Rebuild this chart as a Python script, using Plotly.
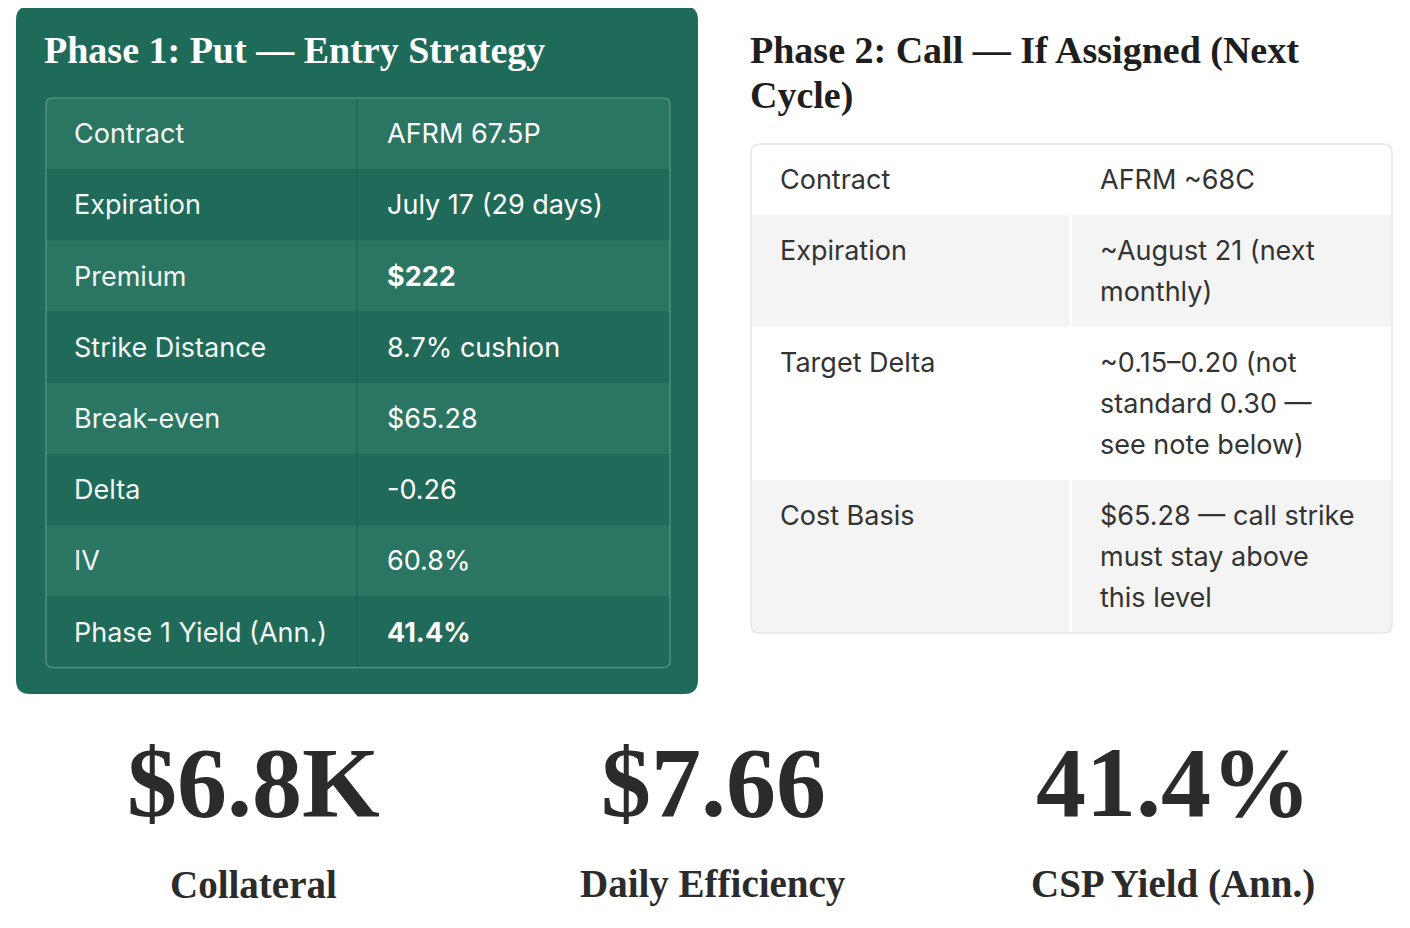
import plotly.graph_objects as go

# ---- data ----
phase1_title = "Phase 1: Put — Entry Strategy"
phase1_labels = ["Contract", "Expiration", "Premium", "Strike Distance",
                 "Break-even", "Delta", "IV", "Phase 1 Yield (Ann.)"]
phase1_values = ["AFRM 67.5P", "July 17 (29 days)", "$222", "8.7% cushion",
                 "$65.28", "-0.26", "60.8%", "41.4%"]
phase1_bold = [False, False, True, False, False, False, False, True]

phase2_title = ["Phase 2: Call — If Assigned (Next", "Cycle)"]
phase2_labels = ["Contract", "Expiration", "Target Delta", "Cost Basis"]
phase2_values = [
    ["AFRM ~68C"],
    ["~August 21 (next", "monthly)"],
    ["~0.15–0.20 (not", "standard 0.30 —", "see note below)"],
    ["$65.28 — call strike", "must stay above", "this level"],
]

stat_values = ["$6.8K", "$7.66", "41.4%"]
stat_labels = ["Collateral", "Daily Efficiency", "CSP Yield (Ann.)"]

# ---- styling ----
W, H = 1410, 928
PAD = 8  # page body margin around the plot div
SANS = "Inter, Lato, sans-serif"
SERIF = "Liberation Serif, DejaVu Serif, serif"
GREEN = "#1f6b59"
ROW_LIGHT = "#2b7563"
ROW_DARK = "#1f6a58"
DARK = "#2b2b2b"
BODY = 27
NUDGE = -3  # annotation inner padding


def rounded(x0, y0, x1, y1, r):
    return (f"M {x0 + r},{y0} L {x1 - r},{y0} Q {x1},{y0} {x1},{y0 + r} "
            f"L {x1},{y1 - r} Q {x1},{y1} {x1 - r},{y1} "
            f"L {x0 + r},{y1} Q {x0},{y1} {x0},{y1 - r} "
            f"L {x0},{y0 + r} Q {x0},{y0} {x0 + r},{y0} Z")


shapes = []
annotations = []


def text(x, y, s, size, color, family=SANS, bold=False, anchor="left"):
    if anchor == "left":
        x += NUDGE
    annotations.append(dict(
        x=x, y=y, xref="x", yref="y", text=s, showarrow=False,
        xanchor=anchor, yanchor="middle",
        font=dict(family=family, size=size, color=color,
                  weight="bold" if bold else "normal")))


# ---- phase 1 panel ----
shapes.append(dict(type="path", path=rounded(16, 6, 698, 694, 14),
                   fillcolor=GREEN, line=dict(width=0), layer="below"))
text(45, 50, phase1_title, 38, "white", SERIF, bold=True)

t_x0, t_x1, t_split = 46, 670, 357
t_y0, row_h = 98, 71.2
for i, (lab, val, b) in enumerate(zip(phase1_labels, phase1_values, phase1_bold)):
    y0 = t_y0 + i * row_h
    y1 = y0 + row_h
    shapes.append(dict(type="rect", x0=t_x0, x1=t_x1, y0=y0, y1=y1,
                       fillcolor=ROW_LIGHT if i % 2 == 0 else ROW_DARK,
                       line=dict(width=0), layer="below"))
    text(75, (y0 + y1) / 2, lab, BODY, "#f3f7f5")
    text(388, (y0 + y1) / 2, val, BODY, "white", bold=b)
t_y1 = t_y0 + len(phase1_labels) * row_h
shapes.append(dict(type="line", x0=t_split, x1=t_split, y0=t_y0, y1=t_y1,
                   line=dict(color="rgba(20,90,72,0.8)", width=1)))
shapes.append(dict(type="path", path=rounded(t_x0, t_y0, t_x1, t_y1, 7),
                   fillcolor="rgba(0,0,0,0)",
                   line=dict(color="rgba(255,255,255,0.28)", width=1.2)))

# ---- phase 2 panel ----
for k, line in enumerate(phase2_title):
    text(751, 50 + k * 45, line, 38, "#1e1e1e", SERIF, bold=True)

r_x0, r_x1, r_split = 751, 1392, 1071
r_y0, base_h, line_h = 144, 71, 41
y0 = r_y0
for i, (lab, vals) in enumerate(zip(phase2_labels, phase2_values)):
    h = base_h + line_h * (len(vals) - 1)
    y1 = y0 + h
    if i % 2 == 1:
        shapes.append(dict(type="rect", x0=r_x0, x1=r_x1, y0=y0, y1=y1,
                           fillcolor="#f4f4f4", line=dict(width=0), layer="below"))
        shapes.append(dict(type="line", x0=r_split, x1=r_split, y0=y0, y1=y1,
                           line=dict(color="white", width=2.5)))
    text(781, y0 + 35, lab, BODY, "#333333")
    for k, v in enumerate(vals):
        text(1101, y0 + 35 + k * line_h, v, BODY, "#333333")
    y0 = y1
shapes.append(dict(type="path", path=rounded(r_x0, r_y0, r_x1, y0, 9),
                   fillcolor="rgba(0,0,0,0)",
                   line=dict(color="#e6e6e6", width=1.5)))

# ---- stats ----
stat_x = [253, 713, 1173]
for x, v, lab in zip(stat_x, stat_values, stat_labels):
    text(x, 782, v, 100, DARK, SERIF, bold=True, anchor="center")
    text(x, 884, lab, 39, DARK, SERIF, bold=True, anchor="center")

fig = go.Figure()
fig.update_layout(
    width=W - 2 * PAD, height=H - 2 * PAD,
    margin=dict(l=0, r=0, t=0, b=0),
    paper_bgcolor="white", plot_bgcolor="white",
    xaxis=dict(range=[PAD, W - PAD], visible=False, fixedrange=True),
    yaxis=dict(range=[H - PAD, PAD], visible=False, fixedrange=True),
    shapes=shapes, annotations=annotations,
    showlegend=False,
)
fig.write_html("out.html")
